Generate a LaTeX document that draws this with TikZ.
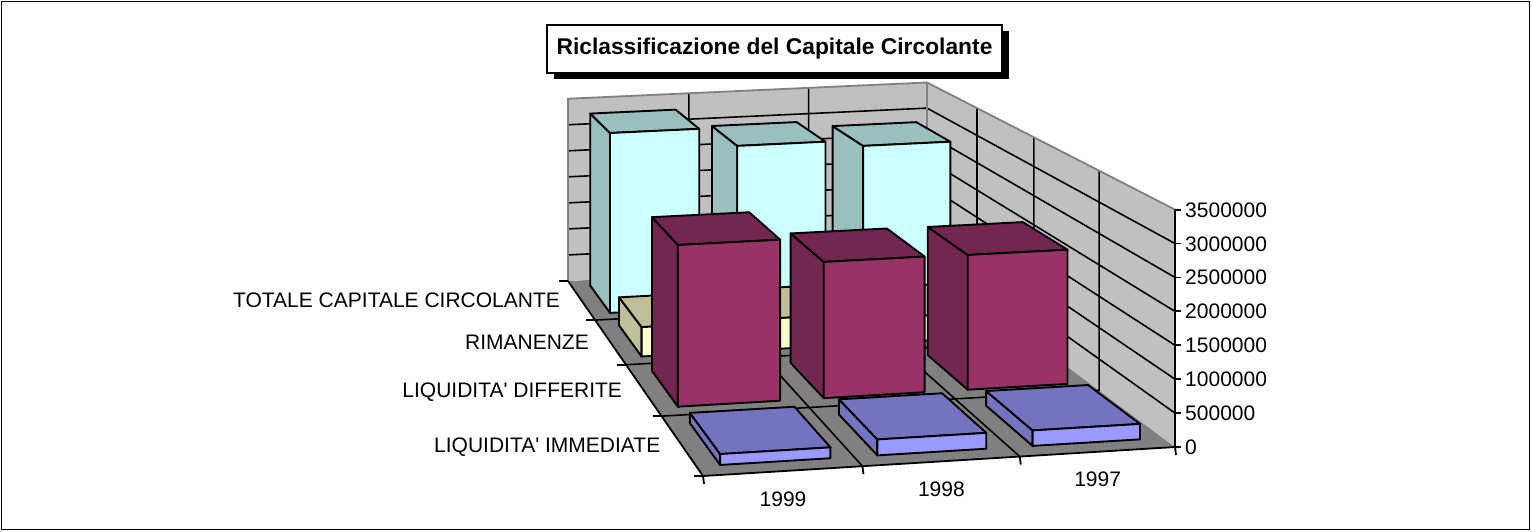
\documentclass[tikz,border=0pt]{standalone}
\usepackage{fontspec}
\setmainfont{Liberation Sans}
\usetikzlibrary{positioning,shadows}
\definecolor{wallgray}{HTML}{C0C0C0}
\definecolor{floorgray}{HTML}{808080}
\definecolor{totfront}{HTML}{CCFFFF}
\definecolor{totside}{HTML}{99BFBF}
\definecolor{rimfront}{HTML}{FFFFCC}
\definecolor{rimside}{HTML}{BFBF99}
\definecolor{diffront}{HTML}{993366}
\definecolor{difside}{HTML}{732650}
\definecolor{immfront}{HTML}{9999FF}
\definecolor{immside}{HTML}{7373BF}
\newcommand{\pp}[4]{%
  \pgfmathsetmacro{\ppw}{1+0.006763*(#2)+0.0822*(#3)}%
  \pgfmathsetmacro{\ppu}{(165.28*(#2)+12.94*(#3)+703)/\ppw}%
  \pgfmathsetmacro{\ppv}{(476-6.643*(#2)-25.65*(#3)-34.6*(#4))/\ppw}%
  \coordinate (#1) at (\ppu pt,-\ppv pt)}
\newcommand{\colbar}[5]{%
  \pp{ba}{#1+0.15}{#2+0.15}{0};
  \pp{bb}{#1+0.85}{#2+0.15}{0};
  \pp{bc}{#1+0.85}{#2+0.15}{#3};
  \pp{bd}{#1+0.15}{#2+0.15}{#3};
  \pp{be}{#1+0.15}{#2+0.85}{0};
  \pp{bg}{#1+0.15}{#2+0.85}{#3};
  \pp{bh}{#1+0.85}{#2+0.85}{#3};
  \draw[barline,fill=#5] (ba) -- (be) -- (bg) -- (bd) -- cycle;
  \draw[barline,fill=#5] (bd) -- (bc) -- (bh) -- (bg) -- cycle;
  \draw[barline,fill=#4] (ba) -- (bb) -- (bc) -- (bd) -- cycle;}

\begin{document}
\begin{tikzpicture}[
    gridline/.style={black,line width=1.6pt},
    walledge/.style={floorgray,line width=1.8pt},
    axisline/.style={black,line width=1.8pt},
    barline/.style={black,line width=1.9pt,line join=round},
    lab/.style={
        font=\fontsize{21}{24}\selectfont,
        inner sep=0pt,
        text height=15pt,
        text depth=0pt
    },
    titlebox/.style={
        draw,
        line width=1.6pt,
        fill=white,
        minimum width=455pt,
        minimum height=48pt,
        font=\fontsize{22.8}{26}\selectfont\bfseries,
        drop shadow={shadow xshift=7pt,shadow yshift=-6pt,fill=black,opacity=1}
    }
    ]
    \useasboundingbox (0,0) rectangle (1531pt,-531pt);
    \draw[line width=1.6pt] (1.5pt,-1.5pt) rectangle (1529.5pt,-529.5pt);
    \node[titlebox] (title) at (774.5pt,-49pt) {Riclassificazione del Capitale Circolante};
    \pp{f0}{0}{0}{0}; \pp{f1}{3}{0}{0}; \pp{f2}{3}{4}{0}; \pp{f3}{0}{4}{0};
    \pp{w1}{3}{0}{7}; \pp{w2}{3}{4}{7}; \pp{w3}{0}{4}{7};
    \fill[floorgray] (f0) -- (f1) -- (f2) -- (f3) -- cycle;
    \fill[wallgray] (f3) -- (f2) -- (f1) -- (w1) -- (w2) -- (w3) -- cycle;
    \foreach \k in {1,...,6} {
        \pp{ga}{0}{4}{\k}; \pp{gb}{3}{4}{\k}; \pp{gc}{3}{0}{\k};
        \draw[gridline] (ga) -- (gb) -- (gc);
    }
    \foreach \x in {1,2} {
        \pp{ga}{\x}{4}{0}; \pp{gb}{\x}{4}{7}; \pp{gc}{\x}{0}{0};
        \draw[gridline] (gb) -- (ga) -- (gc);
    }
    \foreach \y in {1,2,3} {
        \pp{ga}{3}{\y}{0}; \pp{gb}{3}{\y}{7}; \pp{gc}{0}{\y}{0};
        \draw[gridline] (gb) -- (ga) -- (gc);
    }
    \draw[walledge] (f3) -- (w3) -- (w2) -- (w1);
    \draw[walledge] (f2) -- (w2);
    \foreach \x/\h in {2/5.64,1/5.86,0/6.55}
        {\colbar{\x}{3}{\h}{totfront}{totside}}
    \foreach \x/\h in {2/0.86,1/1.05,0/1.0}
        {\colbar{\x}{2}{\h}{rimfront}{rimside}}
    \foreach \x/\h in {2/4.32,1/4.34,0/5.12}
        {\colbar{\x}{1}{\h}{diffront}{difside}}
    \foreach \x/\h in {2/0.46,1/0.47,0/0.32}
        {\colbar{\x}{0}{\h}{immfront}{immside}}
    \draw[axisline] (f3) -- (f0) -- (f1) -- (w1);
    \foreach \k/\t in {0/0,1/500000,2/1000000,3/1500000,4/2000000,5/2500000,6/3000000,7/3500000} {
        \pp{v\k}{3}{0}{\k};
        \draw[axisline] (v\k) -- ++(6pt,0);
        \node[lab,right=10pt of v\k] {\t};
    }
    \foreach \y in {0,...,4} {
        \pp{sa}{0}{\y}{0};
        \draw[axisline] (sa) -- ++(-9pt,0);
    }
    \foreach \x in {0,...,3} {
        \pp{ca}{\x}{0}{0};
        \draw[axisline] (ca) -- ++(1pt,-8pt);
    }
    \foreach \y/\t in {0/LIQUIDITA\textquotesingle{} IMMEDIATE,1/LIQUIDITA\textquotesingle{} DIFFERITE,2/RIMANENZE,3/TOTALE CAPITALE CIRCOLANTE} {
        \pp{s\y}{0}{\y+0.5}{0};
        \node[lab,left=21pt of s\y] {\t};
    }
    \foreach \x/\t in {0/1999,1/1998,2/1997} {
        \pp{cat\x}{\x+0.5}{0}{0};
        \node[lab,below=20pt of cat\x] {\t};
    }
\end{tikzpicture}
\end{document}
